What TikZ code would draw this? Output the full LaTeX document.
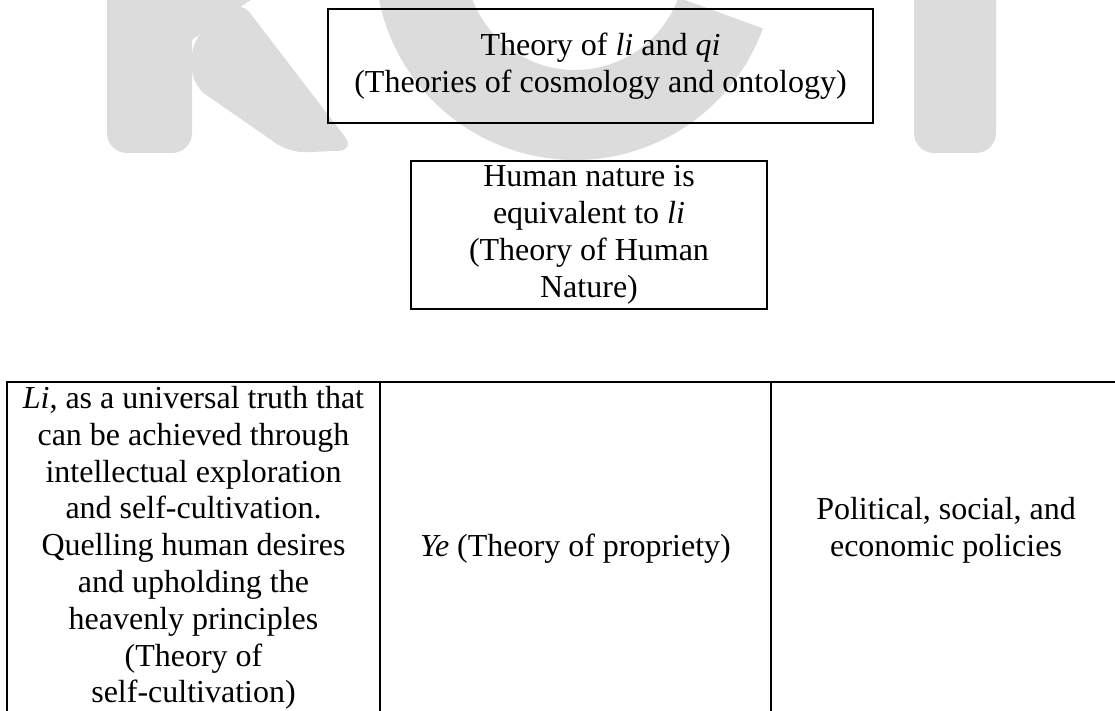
\documentclass[tikz,border=0pt]{standalone}
\usepackage{fontspec}
\setmainfont{Liberation Serif}
\begin{document}
\begin{tikzpicture}[x=0.5pt,y=-0.5pt,
  every node/.style={font={\fontsize{16pt}{18.4pt}\selectfont}, align=center, inner sep=0pt},
  box/.style={draw, line width=1.3pt},
  rule/.style={line width=1.2pt},
  wm/.style={fill=wmgray, draw=none}]
\definecolor{wmgray}{HTML}{DCDCDC}
\useasboundingbox (0,0) rectangle (1115,711);
\begin{scope}
\clip (0,0) rectangle (1115,711);
% watermark K
\fill[wmgray, rounded corners=10pt] (107,-20) -- (107,153) -- (192,153) -- (192,-20) -- cycle;
\fill[wmgray, rounded corners=8pt] (192,40) -- (240,0) -- (355,150) -- (290,153) -- (192,85) -- cycle;
\fill[wmgray] (192,40) -- (192,-20) -- (280,-20) -- cycle;
% watermark C
\fill[wmgray] (575,-40) ++(20:200) arc[start angle=20, end angle=270, radius=200]
  -- ++(0,90) arc[start angle=270, end angle=20, radius=110] -- cycle;
% watermark I
\fill[wmgray, rounded corners=10pt] (914,-20) -- (914,153) -- (996,153) -- (996,-20) -- cycle;
\end{scope}
% top boxes
\node[box, minimum width=272.5pt, minimum height=57pt] (cosmo) at (600.5,66)
  {Theory of \textit{li} and \textit{qi}\\(Theories of cosmology and ontology)};
\node[box, minimum width=178pt, minimum height=74pt] (human) at (589,235)
  {Human nature is\\equivalent to \textit{li}\\(Theory of Human\\Nature)};
% table
\coordinate (tl) at (7,382);
\coordinate (tr) at (1115,382);
\coordinate (d1t) at (380,382);
\coordinate (d2t) at (771,382);
\coordinate (bl) at (7,711);
\coordinate (d1b) at (380,711);
\coordinate (d2b) at (771,711);
\draw[rule] (tr) -- (tl) -- (bl);
\draw[rule] (d1t) -- (d1b);
\draw[rule] (d2t) -- (d2b);
\node (cell1) at (193.5,548)
  {\textit{Li}, as a universal truth that\\can be achieved through\\intellectual exploration\\and self-cultivation.\\Quelling human desires\\and upholding the\\heavenly principles\\(Theory of\\self-cultivation)};
\node (cell2) at (575.5,549) {\textit{Ye} (Theory of propriety)};
\node (cell3) at (946,530) {Political, social, and\\economic policies};
\end{tikzpicture}
\end{document}
